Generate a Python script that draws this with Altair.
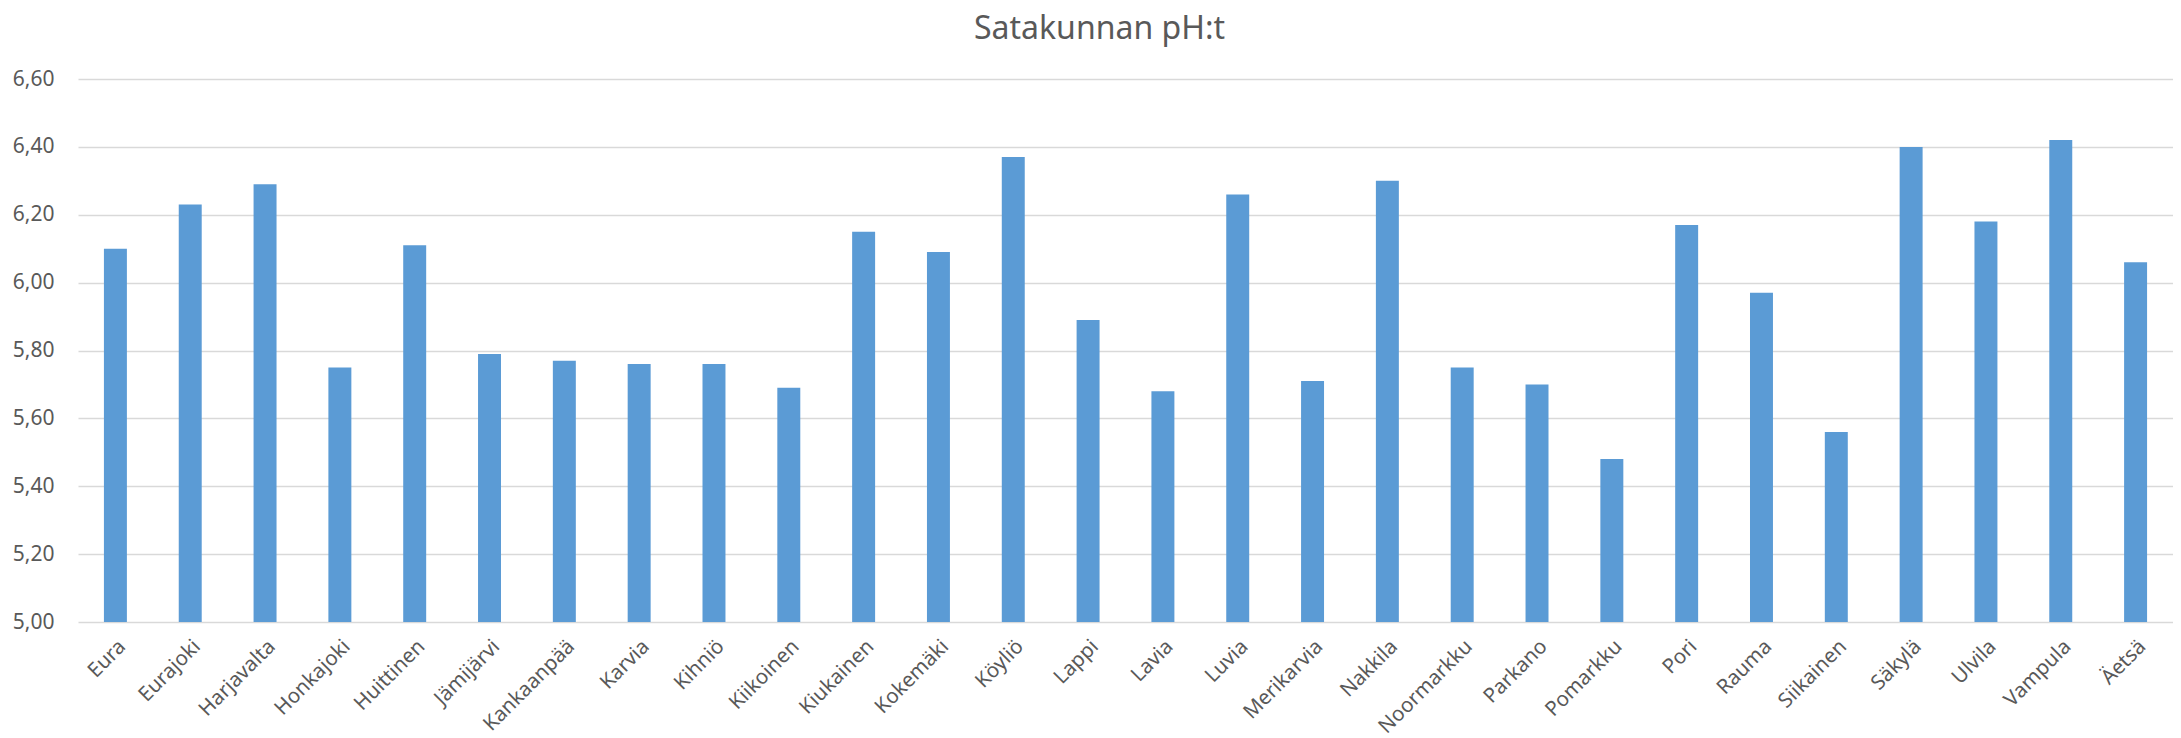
import altair as alt
import pandas as pd

kunnat = ["Eura", "Eurajoki", "Harjavalta", "Honkajoki", "Huittinen", "Jämijärvi",
          "Kankaanpää", "Karvia", "Kihniö", "Kiikoinen", "Kiukainen", "Kokemäki",
          "Köyliö", "Lappi", "Lavia", "Luvia", "Merikarvia", "Nakkila", "Noormarkku",
          "Parkano", "Pomarkku", "Pori", "Rauma", "Siikainen", "Säkylä", "Ulvila",
          "Vampula", "Äetsä"]
ph = [6.10, 6.23, 6.29, 5.75, 6.11, 5.79, 5.77, 5.76, 5.76, 5.69, 6.15, 6.09,
      6.37, 5.89, 5.68, 6.26, 5.71, 6.30, 5.75, 5.70, 5.48, 6.17, 5.97, 5.56,
      6.40, 6.18, 6.42, 6.06]
y_ticks = [5.0, 5.2, 5.4, 5.6, 5.8, 6.0, 6.2, 6.4, 6.6]

df = pd.DataFrame({"kunta": kunnat, "ph": ph})

FONT = "Noto Sans"
GREY = "#595959"

chart = alt.Chart(df).mark_bar(color="#5b9bd5", clip=True).encode(
    x=alt.X("kunta:N", sort=None,
            scale=alt.Scale(paddingInner=0.693, paddingOuter=0.3465),
            axis=alt.Axis(title=None, labelAngle=-45, labelAlign="right",
                          labelBaseline="top", labelPadding=14, ticks=False,
                          domain=False, labelFontSize=20.5, labelColor=GREY,
                          labelFont=FONT, labelOverlap=False)),
    y=alt.Y("ph:Q",
            scale=alt.Scale(domain=[5.0, 6.6], nice=False, zero=False),
            axis=alt.Axis(title=None, values=y_ticks,
                          labelExpr="replace(format(datum.value, '.2f'), '.', ',')",
                          grid=True, gridColor="#d9d9d9", gridWidth=1.5,
                          domain=False, ticks=False, labelPadding=24,
                          labelFontSize=21, labelColor=GREY, labelFont=FONT)),
).properties(
    width=2095, height=543,
    title=alt.Title("Satakunnan pH:t", fontSize=32, font=FONT, color=GREY,
                    fontWeight="normal", anchor="middle", dx=-26,
                    baseline="alphabetic", offset=-3),
    padding={"left": 70, "top": 71, "right": 0, "bottom": 116},
    autosize=alt.AutoSizeParams(type="none"),
).configure_view(stroke=None)

chart.save("out.html", embed_options={"renderer": "svg", "actions": False})
